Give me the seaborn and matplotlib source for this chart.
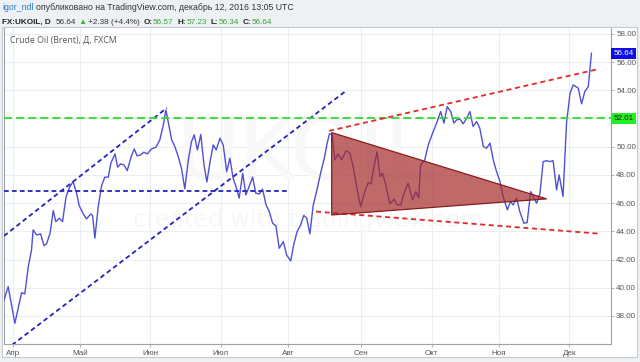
import numpy as np
import pandas as pd
import matplotlib
matplotlib.use("Agg")
import matplotlib.pyplot as plt
import seaborn as sns
from matplotlib.patches import Polygon, Rectangle
from matplotlib.transforms import IdentityTransform, blended_transform_factory

# ---- data: trading-day index since 2016-04-01 and close price ----
day = [-2.7, -1.4, 0.7, 2.8, 3.8, 4.9, 5.9, 6.4, 7.5, 8.75, 9.8, 10.6, 11.7, 12.7, 13.5, 14.6, 15.6,
       16.7, 17.9, 18.9, 20.0, 20.8, 22.1, 23.1, 24.4, 25.0, 25.7, 26.75, 27.8, 28.8, 29.9, 30.7,
       32.0, 32.8, 33.75, 34.8, 35.8, 37.0, 38.0, 38.9, 40.0, 41.0, 42.1, 43.4, 44.8, 46.0, 47.1,
       47.9, 48.6, 49.7, 50.7, 51.75, 52.8, 53.8, 54.9, 55.9, 56.75, 57.75, 58.8, 59.8, 60.7, 61.7,
       62.7, 63.6, 64.8, 65.8, 66.9, 67.9, 68.9, 69.8, 70.8, 71.9, 72.9, 73.9, 75.0, 76.0, 77.1,
       78.1, 79.2, 80.2, 81.25, 82.3, 83.3, 84.6, 85.6, 86.9, 87.9, 88.9, 90.0, 91.0, 91.9, 92.9,
       93.9, 95.1, 96.25, 97.4, 98.3, 99.0, 99.8, 100.7, 101.75, 102.8, 104.2, 105.4, 106.4, 107.7,
       108.75, 109.9, 111.1, 112.0, 112.9, 113.9, 114.8, 115.6, 116.7, 117.9, 119.2, 120.2, 121.25,
       122.3, 123.6, 125.0, 126.0, 126.9, 127.5, 128.8, 129.9, 131.25, 132.5, 133.75, 134.8, 135.8,
       136.9, 137.9, 138.75, 139.8, 140.8, 141.9, 142.9, 143.9, 145.0, 146.0, 147.1, 148.1, 149.2,
       150.2, 151.25, 152.3, 153.3, 154.6, 155.6, 156.4, 157.5, 158.5, 159.8, 160.8, 161.9, 162.7,
       163.75, 164.8, 165.8, 166.9, 167.9, 168.9, 170.0, 170.8, 172.0, 173.1, 174.2, 175.2, 176.75,
       177.8, 178.8, 179.9, 180.9]
price = [39.13, 40.08, 37.48, 39.65, 39.56, 41.50, 42.68, 44.10, 43.74, 43.82, 42.99, 43.11, 43.87,
         45.47, 44.69, 44.93, 44.69, 46.46, 47.17, 47.52, 46.70, 45.82, 45.23, 44.88, 45.23, 45.11,
         43.51, 45.75, 47.24, 47.84, 47.84, 48.83, 49.49, 48.55, 48.78, 48.71, 48.30, 49.26, 49.84,
         49.35, 49.42, 49.61, 49.49, 49.84, 49.96, 50.48, 51.55, 52.61, 51.78, 50.48, 50.01, 49.30,
         48.43, 47.01, 49.06, 50.36, 50.84, 49.77, 50.87, 48.71, 47.50, 48.94, 50.13, 49.77, 50.60,
         50.13, 48.23, 49.18, 47.77, 47.17, 46.35, 48.12, 46.58, 47.17, 47.84, 46.70, 46.65, 46.99,
         45.87, 45.40, 44.57, 44.38, 42.80, 43.27, 42.33, 41.90, 43.11, 43.98, 44.45, 45.13, 44.93,
         43.82, 45.80, 46.94, 48.12, 49.18, 50.25, 50.91, 50.87, 49.06, 49.49, 49.06, 49.72, 49.54,
         48.59, 46.94, 45.75, 46.70, 47.45, 47.36, 48.55, 49.65, 47.88, 48.12, 47.22, 45.94, 46.28,
         45.87, 45.87, 46.70, 47.41, 46.23, 46.82, 46.35, 48.71, 49.06, 50.13, 50.96, 51.67, 52.49,
         51.67, 52.84, 52.49, 51.67, 51.90, 51.95, 51.62, 52.02, 52.49, 51.43, 51.78, 51.31, 50.01,
         49.89, 50.25, 49.06, 48.23, 47.52, 46.46, 45.52, 46.11, 45.87, 46.35, 45.40, 44.57, 44.62,
         46.82, 46.46, 45.99, 46.70, 48.94, 49.01, 48.94, 49.01, 46.94, 48.00, 46.46, 51.67, 53.79,
         54.38, 54.15, 53.04, 53.91, 54.26, 56.64]

month_labels = ["Апр", "Май", "Июн", "Июл", "Авг", "Сен", "Окт", "Ноя", "Дек"]
y_ticks = [38, 40, 42, 44, 46, 48, 50, 52, 54, 56, 58]
last_price = 56.64
green_level = 52.01
blue_level = 46.89
blue_level_x = [-2.7, 86.7]
chan_up_x, chan_up_y = [-2.7, 48.2], [43.67, 52.75]
chan_lo_x, chan_lo_y = [-0.2, 103.9], [35.94, 53.91]
red_up_x, red_up_y = [98.9, 183.0], [51.12, 55.50]
red_lo_x, red_lo_y = [94.8, 183.0], [45.40, 43.84]
tri_x = [99.7, 99.7, 166.9]
tri_y = [51.0, 45.16, 46.30]

# month tick positions: first business day of each month
bd = pd.bdate_range("2016-04-01", "2016-12-31")
month_pos = [i for i in range(len(bd)) if i == 0 or bd[i].month != bd[i - 1].month]

W, H = 640, 362
sns.set_theme(style="white")
plt.rcParams['font.family'] = ['Liberation Sans', 'DejaVu Sans']

fig = plt.figure(figsize=(W / 100, H / 100), dpi=100, facecolor='#eef1f4')
# white panel
fig.patches.append(Rectangle((2 / W, 1 - 357 / H), 635 / W, 330 / H, transform=fig.transFigure,
                             facecolor='white', edgecolor='#c5c9ce', lw=0.8, zorder=-5))

top_px, bot_px, left_px, right_px = 27.5, 344.3, 4, 611
ax = fig.add_axes([left_px / W, 1 - bot_px / H, (right_px - left_px) / W, (bot_px - top_px) / H])
ax.set_zorder(1)
ax.set_facecolor('white')

ax.set_xlim(-2.7, 187)
ax.set_ylim(35.99, 58.45)

# grid
for m in month_pos:
    ax.axvline(m, color='#eceef1', lw=0.8, zorder=0)
for yv in y_ticks:
    ax.axhline(yv, color='#eceef1', lw=0.8, zorder=0)

# watermark
ax.text(91.3, 49.4, "UKOIL", fontsize=62, color='#f8f8f9', ha='center', va='center', zorder=0.5,
        family='DejaVu Sans')
ax.text(92.3, 44.8, "created with tradingview.com", fontsize=17, color='#f7f7f8', ha='center',
        va='center', zorder=0.5, family='DejaVu Sans')

df = pd.DataFrame({"day": day, "price": price})
sns.lineplot(data=df, x="day", y="price", ax=ax, color='#5050d6', lw=1.0, sort=False,
             estimator=None, zorder=3)

# drawings
dkw = dict(lw=1.3, zorder=4)
ax.plot(chan_up_x, chan_up_y, color='#2222c0', dashes=(2.6, 1.8), **dkw)
ax.plot(chan_lo_x, chan_lo_y, color='#2222c0', dashes=(2.6, 1.8), **dkw)
ax.plot(blue_level_x, [blue_level, blue_level], color='#2222c0', dashes=(2.6, 1.8), **dkw)
ax.axhline(green_level, color='#2edc2e', dashes=(4.5, 2.2), lw=1.3, zorder=4)
ax.plot(red_up_x, red_up_y, color='#e02a2a', dashes=(2.8, 2.0), **dkw)
ax.plot(red_lo_x, red_lo_y, color='#e02a2a', dashes=(2.8, 2.0), **dkw)
ax.add_patch(Polygon(list(zip(tri_x, tri_y)), closed=True, facecolor='#a52a2a', alpha=0.7,
                     edgecolor='none', zorder=5))
ax.add_patch(Polygon(list(zip(tri_x, tri_y)), closed=True, facecolor='none',
                     edgecolor='#8b1c1c', lw=0.9, zorder=5))

# axes styling
for s in ax.spines.values():
    s.set_color('#9ea3a8')
    s.set_linewidth(0.8)
ax.spines['top'].set_visible(False)
ax.yaxis.tick_right()
ax.set_yticks(y_ticks)
# the 52.00 label sits under the 52.01 level marker, as on the reference
ax.set_yticklabels(["" if abs(v - green_level) < 0.5 else f"{v:.2f}" for v in y_ticks])
ax.set_xticks(month_pos)
ax.set_xticklabels(month_labels)
ax.tick_params(axis='y', which='both', right=True, length=2.5, width=0.6, color='#9ea3a8',
               pad=1.2, labelsize=5.8, labelcolor='#555555')
ax.tick_params(axis='x', which='both', bottom=True, length=2, width=0.6, color='#9ea3a8',
               pad=2.0, labelsize=5.8, labelcolor='#555555')
ax.set_xlabel("")
ax.set_ylabel("")

# price labels on scale
tr = blended_transform_factory(ax.transAxes, ax.transData)
ax.text(1.004, last_price, f"{last_price:.2f}", transform=tr, fontsize=5.8, color='white',
        ha='left', va='center', zorder=6, clip_on=False,
        bbox=dict(boxstyle='square,pad=0.25', facecolor='#1010e6', edgecolor='none'))
ax.text(1.004, green_level, f"{green_level:.2f}", transform=tr, fontsize=5.8, color='#1a1a1a',
        ha='left', va='center', zorder=6, clip_on=False,
        bbox=dict(boxstyle='square,pad=0.25', facecolor='#22f022', edgecolor='none'))

# instrument title inside chart
fig.text(10 / W, 1 - 40.5 / H, "Crude Oil (Brent), Д, FXCM", fontsize=6.3, color='#555555',
         ha='left', va='center', family=['Open Sans', 'DejaVu Sans'], zorder=10)

# header runs
renderer = fig.canvas.get_renderer()


def run(x, y, parts, size):
    for txt, col, wt, gap in parts:
        t = fig.text(x, H - y, txt, transform=IdentityTransform(), fontsize=size, color=col,
                     fontweight=wt, ha='left', va='center')
        x = t.get_window_extent(renderer).x1 + gap


run(2, 8, [("igor_ndl", '#2b7bd3', 'normal', 3),
           ("опубликовано на TradingView.com, декабрь 12, 2016 13:05 UTC", '#333333', 'normal', 0)],
    6.3)
grn = '#37a837'
run(2, 22, [("FX:UKOIL, D", '#222222', 'bold', 5),
            ("56.64", '#333333', 'normal', 2),
            ("▲", '#3cb43c', 'normal', 2),
            ("+2.38 (+4.4%)", '#333333', 'normal', 4),
            ("O:", '#222222', 'bold', 0), ("56.57", grn, 'normal', 4),
            ("H:", '#222222', 'bold', 0), ("57.23", grn, 'normal', 4),
            ("L:", '#222222', 'bold', 0), ("56.34", grn, 'normal', 4),
            ("C:", '#222222', 'bold', 0), ("56.64", grn, 'normal', 0)],
    5.9)

fig.savefig("out.png", dpi=100, facecolor=fig.get_facecolor())
